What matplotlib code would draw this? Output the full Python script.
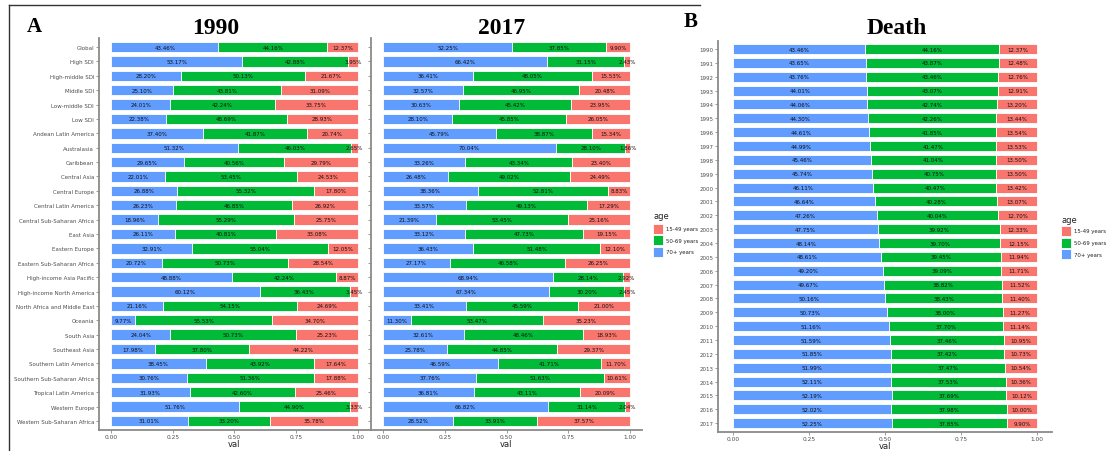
import matplotlib
matplotlib.use("Agg")
import matplotlib.pyplot as plt
from matplotlib.patches import Rectangle
from matplotlib.lines import Line2D

regions = ["Global", "High SDI", "High-middle SDI", "Middle SDI", "Low-middle SDI", "Low SDI",
           "Andean Latin America", "Australasia", "Caribbean", "Central Asia", "Central Europe",
           "Central Latin America", "Central Sub-Saharan Africa", "East Asia", "Eastern Europe",
           "Eastern Sub-Saharan Africa", "High-income Asia Pacific", "High-income North America",
           "North Africa and Middle East", "Oceania", "South Asia", "Southeast Asia",
           "Southern Latin America", "Southern Sub-Saharan Africa", "Tropical Latin America",
           "Western Europe", "Western Sub-Saharan Africa"]

old_1990 = [43.46, 53.17, 28.20, 25.10, 24.01, 22.38, 37.40, 51.32, 29.65, 22.01, 26.88, 26.23, 18.96,
            26.11, 32.91, 20.72, 48.88, 60.12, 21.16, 9.77, 24.04, 17.98, 38.45, 30.76, 31.93, 51.76, 31.01]
mid_1990 = [44.16, 42.88, 50.13, 43.81, 42.24, 48.69, 41.87, 46.03, 40.56, 53.45, 55.32, 46.85, 55.29,
            40.81, 55.04, 50.73, 42.24, 36.43, 54.15, 55.53, 50.73, 37.80, 43.92, 51.36, 42.60, 44.90, 33.20]
young_1990 = [12.37, 3.95, 21.67, 31.09, 33.75, 28.93, 20.74, 2.65, 29.79, 24.53, 17.80, 26.92, 25.75,
              33.08, 12.05, 28.54, 8.87, 3.45, 24.69, 34.70, 25.23, 44.22, 17.64, 17.88, 25.46, 3.33, 35.78]

old_2017 = [52.25, 66.42, 36.41, 32.57, 30.63, 28.10, 45.79, 70.04, 33.26, 26.48, 38.36, 33.57, 21.39,
            33.12, 36.43, 27.17, 68.94, 67.34, 33.41, 11.30, 32.61, 25.78, 46.59, 37.76, 36.81, 66.82, 28.52]
mid_2017 = [37.85, 31.15, 48.05, 46.95, 45.42, 45.85, 38.87, 28.10, 43.34, 49.02, 52.81, 49.13, 53.45,
            47.73, 51.48, 46.58, 28.14, 30.20, 45.59, 53.47, 48.46, 44.85, 41.71, 51.63, 43.11, 31.14, 33.91]
young_2017 = [9.90, 2.43, 15.53, 20.48, 23.95, 26.05, 15.34, 1.86, 23.40, 24.49, 8.83, 17.29, 25.16,
              19.15, 12.10, 26.25, 2.92, 2.45, 21.00, 35.23, 18.93, 29.37, 11.70, 10.61, 20.09, 2.04, 37.57]

years = [str(y) for y in range(1990, 2018)]
old_death = [43.46, 43.65, 43.76, 44.01, 44.06, 44.30, 44.61, 44.99, 45.46, 45.74, 46.11, 46.64, 47.26, 47.75,
             48.14, 48.61, 49.20, 49.67, 50.16, 50.73, 51.16, 51.59, 51.85, 51.99, 52.11, 52.19, 52.02, 52.25]
mid_death = [44.16, 43.87, 43.46, 43.07, 42.74, 42.26, 41.85, 41.47, 41.04, 40.75, 40.47, 40.28, 40.04, 39.92,
             39.70, 39.45, 39.09, 38.82, 38.43, 38.00, 37.70, 37.46, 37.42, 37.47, 37.53, 37.69, 37.98, 37.85]
young_death = [12.37, 12.48, 12.76, 12.91, 13.20, 13.44, 13.54, 13.53, 13.50, 13.50, 13.42, 13.07, 12.70, 12.33,
               12.15, 11.94, 11.71, 11.52, 11.40, 11.27, 11.14, 10.95, 10.73, 10.54, 10.36, 10.12, 10.00, 9.90]

age_labels = ["15-49 years", "50-69 years", "70+ years"]
C_RED, C_GREEN, C_BLUE = "#F8766D", "#00BA38", "#619CFF"

W, H = 1107, 452
fig = plt.figure(figsize=(W / 100, H / 100), dpi=100)
fig.patch.set_facecolor("white")

def ax_px(l, t, r, b):
    return fig.add_axes([l / W, 1 - b / H, (r - l) / W, (b - t) / H])

AX_COL = "#8a8a8a"
TXT_COL = "#4d4d4d"

def draw_stack(ax, cats, old, mid, young, show_labels=True, bar_h=0.72):
    n = len(cats)
    ys = list(range(n))
    o = [v / 100 for v in old]
    m = [v / 100 for v in mid]
    yv = [v / 100 for v in young]
    ax.barh(ys, o, left=0, height=bar_h, color=C_BLUE, edgecolor="white", linewidth=0.6)
    ax.barh(ys, m, left=o, height=bar_h, color=C_GREEN, edgecolor="white", linewidth=0.6)
    left3 = [a + b for a, b in zip(o, m)]
    ax.barh(ys, yv, left=left3, height=bar_h, color=C_RED, edgecolor="white", linewidth=0.6)
    for i in range(n):
        ax.text(o[i] / 2, i, f"{old[i]:.2f}%", ha="center", va="center", fontsize=4.0, color="#111111")
        ax.text(o[i] + m[i] / 2, i, f"{mid[i]:.2f}%", ha="center", va="center", fontsize=4.0, color="#111111")
        ax.text(left3[i] + yv[i] / 2, i, f"{young[i]:.2f}%", ha="center", va="center", fontsize=4.0, color="#111111")
    ax.set_xlim(-0.05, 1.05)
    ax.set_ylim(n - 1 + 0.6, -0.6)
    ax.set_yticks(ys)
    if show_labels:
        ax.set_yticklabels(cats, fontsize=4.0, color=TXT_COL)
    else:
        ax.set_yticklabels([])
    ax.set_xticks([0, 0.25, 0.5, 0.75, 1.0])
    ax.set_xticklabels(["0.00", "0.25", "0.50", "0.75", "1.00"], fontsize=4.2, color=TXT_COL)
    ax.set_xlabel("val", fontsize=6.0, color="#222222", labelpad=0)
    for s in ["top", "right"]:
        ax.spines[s].set_visible(False)
    for s in ["left", "bottom"]:
        ax.spines[s].set_color(AX_COL)
        ax.spines[s].set_linewidth(1.3)
    ax.tick_params(axis="both", length=2, width=0.6, color=AX_COL, pad=1.2)
    ax.set_facecolor("white")

ax1 = ax_px(98.6, 39.4, 370.4, 430.6)
draw_stack(ax1, regions, old_1990, mid_1990, young_1990, True)
ax2 = ax_px(370.6, 39.4, 642.4, 430.6)
draw_stack(ax2, regions, old_2017, mid_2017, young_2017, False)
ax3 = ax_px(717.8, 41.7, 1052.2, 432.5)
draw_stack(ax3, years, old_death, mid_death, young_death, True)

def ftxt(x, y, s, **kw):
    fig.text(x / W, 1 - y / H, s, **kw)

serif = ["Liberation Serif", "DejaVu Serif"]
ftxt(34, 27, "A", fontsize=15, fontweight="bold", family=serif, ha="center", va="center")
ftxt(216, 28, "1990", fontsize=17, fontweight="bold", family=serif, ha="center", va="center")
ftxt(502, 28, "2017", fontsize=17, fontweight="bold", family=serif, ha="center", va="center")
ftxt(691, 22, "B", fontsize=15, fontweight="bold", family=serif, ha="center", va="center")
ftxt(897, 28, "Death", fontsize=17, fontweight="bold", family=serif, ha="center", va="center")

def legend_px(x, y_title, y_first, step):
    ftxt(x, y_title, "age", fontsize=6.0, color="#222222", ha="left", va="center")
    cols = [C_RED, C_GREEN, C_BLUE]
    for i, (lab, c) in enumerate(zip(age_labels, cols)):
        yc = y_first + i * step
        fig.patches.append(Rectangle(((x) / W, 1 - (yc + 5) / H), 10 / W, 10 / H,
                                     transform=fig.transFigure, facecolor=c,
                                     edgecolor="white", linewidth=0.6))
        ftxt(x + 13, yc, lab, fontsize=3.9, color="#222222", ha="left", va="center")

legend_px(653, 217, 230, 11.3)
legend_px(1061, 221, 232, 11.5)

# frame around panel A
fig.lines.append(Line2D([9 / W, 9 / W], [1 - 6 / H, 1 - 452 / H], transform=fig.transFigure,
                        color="#333333", linewidth=1.0))
fig.lines.append(Line2D([9 / W, 700 / W], [1 - 6 / H, 1 - 6 / H], transform=fig.transFigure,
                        color="#333333", linewidth=1.0))

fig.savefig("out.png", dpi=100, facecolor="white")
